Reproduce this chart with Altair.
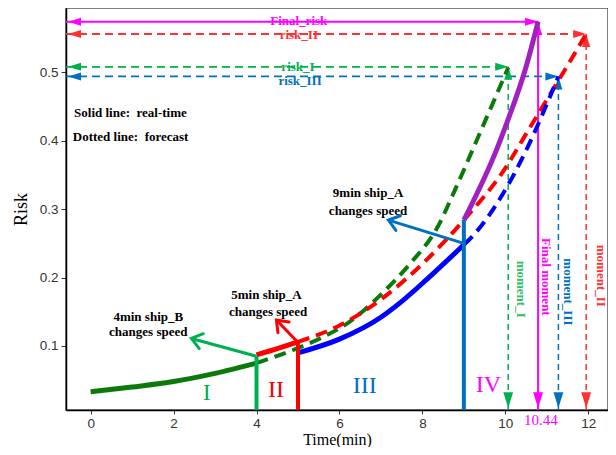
import math
import altair as alt
import pandas as pd

# ---------------- data ----------------
x_ticks = [0, 2, 4, 6, 8, 10, 12]
y_ticks = [0.1, 0.2, 0.3, 0.4, 0.5]
X_DOMAIN = [-0.594, 12.476]
Y_DOMAIN = [0.0064, 0.594]

# risk curves
g_solid_x = [0, 1, 2, 3, 4]
g_solid_y = [0.033, 0.040, 0.048, 0.060, 0.075]
g_dash_x = [4, 5, 5.53, 6.26, 6.98, 7.7, 8.35, 8.8, 9.22, 10.07]
g_dash_y = [0.075, 0.097, 0.111, 0.136, 0.174, 0.220, 0.272, 0.330, 0.388, 0.507]
r_solid_x = [4, 4.5, 5]
r_solid_y = [0.087, 0.096, 0.106]
r_dash_x = [5, 6, 7, 8, 9, 10, 10.5, 11, 11.5, 11.95]
r_dash_y = [0.106, 0.130, 0.168, 0.220, 0.284, 0.360, 0.410, 0.460, 0.510, 0.556]
b_solid_x = [5, 6, 7, 7.46, 8.1, 9]
b_solid_y = [0.090, 0.110, 0.142, 0.163, 0.197, 0.248]
b_dash_x = [9, 9.23, 10.11, 10.51, 11.28]
b_dash_y = [0.248, 0.262, 0.340, 0.387, 0.494]
p_solid_x = [9, 9.79, 10.03, 10.51, 10.79]
p_solid_y = [0.284, 0.387, 0.425, 0.510, 0.574]

# speed-change events
evt_x = [4, 5, 9]
evt_top = [0.085, 0.106, 0.284]
evt_arrow_y0 = [0.085, 0.105, 0.250]
evt_arrow_x1 = [2.43, 4.48, 7.18]
evt_arrow_y1 = [0.111, 0.138, 0.284]
evt_color = ["#00B050", "#FF0000", "#0070C0"]

# final risk / moments
risk_names = ["Final_risk", "risk_II", "risk_I", "risk_III"]
risk_level = [0.574, 0.556, 0.508, 0.494]
risk_moment = [10.79, 11.95, 10.07, 11.28]
risk_color = ["#FF00FF", "#FF3030", "#00B050", "#0070C0"]
risk_dashed = [False, True, True, True]
risk_label_x = [5.02, 5.02, 5.0, 5.05]
risk_label_y = [0.575, 0.554, 0.508, 0.488]

moment_names = ["Final moment", "moment_II", "moment_I", "moment_III"]
moment_label_x = [10.99, 12.30, 10.39, 11.52]
moment_label_y = [0.201, 0.2025, 0.183, 0.179]
moment_color = ["#FF00FF", "#FF3030", "#2CC064", "#0070C0"]

note_text = ["Solid line:\u00a0\u00a0real-time", "Dotted line:\u00a0\u00a0forecast"]
note_x = [-0.40, -0.43]
note_y = [0.440, 0.405]

ann_text = ["4min ship_B", "changes speed", "5min ship_A", "changes speed",
            "9min ship_A", "changes speed"]
ann_x = [1.39, 1.39, 4.24, 4.28, 6.69, 6.69]
ann_y = [0.143, 0.121, 0.175, 0.150, 0.323, 0.298]

phase_text = ["I", "II", "III", "IV"]
phase_x = [2.8, 4.47, 6.61, 9.59]
phase_y = [0.031, 0.036, 0.041, 0.043]
phase_color = ["#00B050", "#FF0000", "#0070C0", "#FF00FF"]

final_moment_label = "10.44"

# ---------------- chart ----------------
W, H = 542, 402
SERIF = "Liberation Serif"
ARROW = "M0,0L-1,-0.31L-1,0.31Z"
VHEAD = "M-1,-0.75L0,0L-1,0.75"

xs = alt.Scale(domain=X_DOMAIN, nice=False, zero=False)
ys = alt.Scale(domain=Y_DOMAIN, nice=False, zero=False)
x_axis = alt.Axis(values=x_ticks, title="Time(min)", format="d")
y_axis = alt.Axis(values=y_ticks, title="Risk", format=".1f")


def X(f="x"):
    return alt.X(f + ":Q", scale=xs, axis=x_axis)


def Y(f="y"):
    return alt.Y(f + ":Q", scale=ys, axis=y_axis)


PX_X = W / (X_DOMAIN[1] - X_DOMAIN[0])
PX_Y = H / (Y_DOMAIN[1] - Y_DOMAIN[0])

layers = []


def curve(xv, yv, color, width, dash=None):
    df = pd.DataFrame({"x": xv, "y": yv})
    kw = dict(color=color, strokeWidth=width, interpolate="monotone", strokeCap="butt")
    if dash:
        kw["strokeDash"] = dash
    return alt.Chart(df).mark_line(**kw).encode(x=X(), y=Y())


# horizontal risk arrows and vertical moment arrows
for name, lvl, mom, col, dashed in zip(risk_names, risk_level, risk_moment, risk_color, risk_dashed):
    df = pd.DataFrame({"x": [X_DOMAIN[0]], "x2": [mom], "y": [lvl]})
    kw = dict(color=col, strokeWidth=1.8 if dashed else 2)
    if dashed:
        kw["strokeDash"] = [8, 5]
    layers.append(alt.Chart(df).mark_rule(**kw).encode(x=X(), x2="x2:Q", y=Y()))
    df = pd.DataFrame({"x": [mom], "y": [Y_DOMAIN[0]], "y2": [lvl]})
    kw = dict(color=col, strokeWidth=1.5 if dashed else 2)
    if dashed:
        kw["strokeDash"] = [6, 4]
    layers.append(alt.Chart(df).mark_rule(**kw).encode(x=X(), y=Y(), y2="y2:Q"))

heads = pd.DataFrame({
    "x": risk_moment + risk_moment,
    "y": risk_level + risk_level,
    "angle": [0] * 4 + [270] * 4,
    "color": risk_color + risk_color,
})
layers.append(alt.Chart(heads).mark_point(shape=ARROW, filled=True, size=676, opacity=1, strokeWidth=0)
              .encode(x=X(), y=Y(), angle=alt.Angle("angle:Q", scale=None), color=alt.Color("color:N", scale=None)))
left_heads = pd.DataFrame({"y": risk_level, "color": risk_color})
layers.append(alt.Chart(left_heads).mark_point(shape=ARROW, filled=True, size=676, opacity=1, strokeWidth=0, angle=180)
              .encode(x=alt.value(2), y=Y(), color=alt.Color("color:N", scale=None)))
bottom_heads = pd.DataFrame({"x": risk_moment, "color": risk_color})
layers.append(alt.Chart(bottom_heads).mark_point(shape=ARROW, filled=True, size=1000, opacity=1, strokeWidth=0, angle=90)
              .encode(x=X(), y=alt.value(H - 2), color=alt.Color("color:N", scale=None)))

# curves
layers.append(curve(g_solid_x, g_solid_y, "#0B7A0B", 5))
layers.append(curve(g_dash_x, g_dash_y, "#0B7A0B", 4, [12, 7]))
layers.append(curve(r_solid_x, r_solid_y, "#FF0000", 5))
layers.append(curve(r_dash_x, r_dash_y, "#FF0000", 4, [12, 7]))
layers.append(curve(b_solid_x, b_solid_y, "#0000FF", 5))
layers.append(curve(b_dash_x, b_dash_y, "#0000FF", 4, [12, 7]))
layers.append(curve(p_solid_x, p_solid_y, "#A020C0", 5))

# speed change events
for ex, et, ay0, ax1, ay1, col in zip(evt_x, evt_top, evt_arrow_y0, evt_arrow_x1, evt_arrow_y1, evt_color):
    df = pd.DataFrame({"x": [ex], "y": [Y_DOMAIN[0]], "y2": [et]})
    layers.append(alt.Chart(df).mark_rule(color=col, strokeWidth=4).encode(x=X(), y=Y(), y2="y2:Q"))
    df = pd.DataFrame({"x": [ex], "x2": [ax1], "y": [ay0], "y2": [ay1]})
    layers.append(alt.Chart(df).mark_rule(color=col, strokeWidth=3).encode(x=X(), x2="x2:Q", y=Y(), y2="y2:Q"))
    ang = math.degrees(math.atan2(-(ay1 - ay0) * PX_Y, (ax1 - ex) * PX_X)) % 360
    df = pd.DataFrame({"x": [ax1], "y": [ay1], "angle": [ang]})
    layers.append(alt.Chart(df).mark_point(shape=VHEAD, filled=False, size=420, opacity=1, strokeWidth=3,
                                           color=col, strokeCap="round", strokeJoin="miter")
                  .encode(x=X(), y=Y(), angle=alt.Angle("angle:Q", scale=None)))

# texts
bold = dict(font=SERIF, fontWeight="bold", fontSize=13)
df = pd.DataFrame({"x": ann_x, "y": ann_y, "t": ann_text})
layers.append(alt.Chart(df).mark_text(color="black", **bold).encode(x=X(), y=Y(), text="t:N"))
df = pd.DataFrame({"x": note_x, "y": note_y, "t": note_text})
layers.append(alt.Chart(df).mark_text(color="black", align="left", **bold).encode(x=X(), y=Y(), text="t:N"))
df = pd.DataFrame({"x": risk_label_x, "y": risk_label_y, "t": risk_names, "c": risk_color})
layers.append(alt.Chart(df).mark_text(font=SERIF, fontWeight="bold", fontSize=13)
              .encode(x=X(), y=Y(), text="t:N", color=alt.Color("c:N", scale=None)))
df = pd.DataFrame({"x": moment_label_x, "y": moment_label_y, "t": moment_names, "c": moment_color})
layers.append(alt.Chart(df).mark_text(angle=90, **bold)
              .encode(x=X(), y=Y(), text="t:N", color=alt.Color("c:N", scale=None)))
df = pd.DataFrame({"x": phase_x, "y": phase_y, "t": phase_text, "c": phase_color})
layers.append(alt.Chart(df).mark_text(font=SERIF, fontSize=24)
              .encode(x=X(), y=Y(), text="t:N", color=alt.Color("c:N", scale=None)))
df = pd.DataFrame({"x": [risk_moment[0] + 0.07], "t": [final_moment_label]})
layers.append(alt.Chart(df).mark_text(font=SERIF, fontSize=15, color="#FF00FF", baseline="middle")
              .encode(x=X(), y=alt.value(H + 10), text="t:N"))

chart = (
    alt.layer(*layers)
    .properties(width=W, height=H, autosize=alt.AutoSizeParams(type="none"),
                padding={"left": 58, "top": 0, "right": 0, "bottom": 37})
    .configure_view(stroke="#555555", strokeWidth=1.5)
    .configure_axis(grid=False, domainColor="black", domainWidth=1.5, tickColor="#333333",
                    tickSize=4, tickWidth=1, labelFont="Liberation Sans", labelFontSize=13.5,
                    labelColor="#333333", titleFont=SERIF, titleFontSize=18,
                    titleFontWeight="normal", titleColor="black", labelPadding=2)
    .configure_axisY(titlePadding=9, tickSize=5, labelPadding=3)
    .configure_axisX(titleBaseline="alphabetic", titleY=34, titleFontSize=16)
)

chart.save("out.html", embed_options={"renderer": "svg", "actions": False})
